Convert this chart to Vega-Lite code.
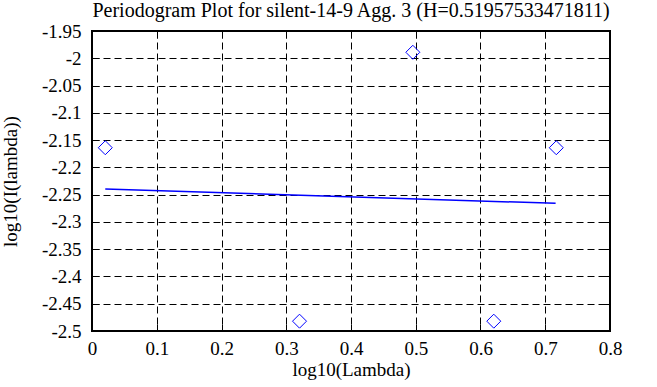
{
  "$schema": "https://vega.github.io/schema/vega-lite/v6.json",
  "width": 518,
  "height": 300,
  "autosize": "none",
  "padding": {"left": 92, "top": 31, "right": 47, "bottom": 56},
  "background": "white",
  "title": {"text": "Periodogram Plot for silent-14-9 Agg. 3 (H=0.51957533471811)", "font": "Liberation Serif", "fontSize": 20, "fontWeight": "normal", "color": "black", "anchor": "middle", "offset": 1},
  "config": {
    "font": "Liberation Serif",
    "view": {"stroke": "black", "strokeWidth": 2},
    "axis": {"labelFont": "Liberation Serif", "titleFont": "Liberation Serif", "labelFontSize": 19, "titleFontSize": 19, "titleFontWeight": "normal", "labelColor": "black", "titleColor": "black", "domain": false, "tickColor": "black", "gridColor": "black", "gridDash": [7, 4], "gridOpacity": 1, "gridWidth": 1}
  },
  "datasets": {
    "pts": [
      {"x": 0.0205, "y": -2.164},
      {"x": 0.3205, "y": -2.482},
      {"x": 0.4955, "y": -1.989},
      {"x": 0.6205, "y": -2.482},
      {"x": 0.717, "y": -2.164}
    ],
    "fit": [
      {"x": 0.0205, "y": -2.2397},
      {"x": 0.716, "y": -2.266}
    ]
  },
  "layer": [
    {
      "data": {"name": "pts"},
      "mark": {"type": "point", "shape": "diamond", "size": 196, "color": "blue", "strokeWidth": 1, "filled": false, "opacity": 1},
      "encoding": {
        "x": {"field": "x", "type": "quantitative", "scale": {"domain": [0, 0.8], "nice": false, "zero": false}, "axis": {"orient": "bottom", "title": "log10(Lambda)", "values": [0, 0.1, 0.2, 0.3, 0.4, 0.5, 0.6, 0.7, 0.8], "labelExpr": "toString(datum.value)", "tickSize": -7, "labelPadding": 15, "titlePadding": 2, "grid": true, "labelFlush": false}},
        "y": {"field": "y", "type": "quantitative", "scale": {"domain": [-2.5, -1.95], "nice": false, "zero": false}, "axis": {"orient": "left", "title": "log10(I(lambda))", "values": [-2.5, -2.45, -2.4, -2.35, -2.3, -2.25, -2.2, -2.15, -2.1, -2.05, -2, -1.95], "labelExpr": "toString(datum.value)", "tickSize": -7, "labelPadding": 18, "titlePadding": 21, "grid": true, "labelFlush": false}}
      }
    },
    {
      "data": {"name": "fit"},
      "mark": {"type": "line", "color": "blue", "strokeWidth": 1.5},
      "encoding": {
        "x": {"field": "x", "type": "quantitative", "scale": {"domain": [0, 0.8], "nice": false, "zero": false}, "axis": {"orient": "top", "title": null, "labels": false, "values": [0, 0.1, 0.2, 0.3, 0.4, 0.5, 0.6, 0.7, 0.8], "tickSize": -7, "grid": false}},
        "y": {"field": "y", "type": "quantitative", "scale": {"domain": [-2.5, -1.95], "nice": false, "zero": false}, "axis": {"orient": "right", "title": null, "labels": false, "values": [-2.5, -2.45, -2.4, -2.35, -2.3, -2.25, -2.2, -2.15, -2.1, -2.05, -2, -1.95], "tickSize": -7, "grid": false}}
      }
    }
  ],
  "resolve": {"axis": {"x": "independent", "y": "independent"}}
}
